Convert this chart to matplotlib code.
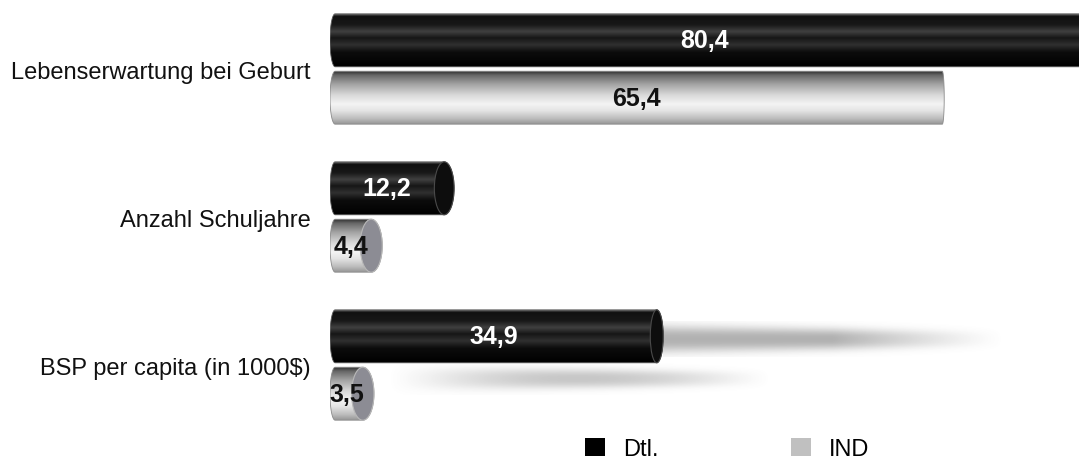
import numpy as np
import matplotlib.pyplot as plt
from matplotlib.colors import LinearSegmentedColormap
from matplotlib.patches import PathPatch, Ellipse, Patch
from matplotlib.path import Path

plt.rcParams['font.family'] = ['Liberation Sans', 'DejaVu Sans']

categories = ['Lebenserwartung bei Geburt', 'Anzahl Schuljahre', 'BSP per capita (in 1000$)']
dtl = [80.4, 12.2, 34.9]
ind = [65.4, 4.4, 3.5]
series_names = ['Dtl.', 'IND']

XMAX = 80.0

black_cmap = LinearSegmentedColormap.from_list('blk', [
    (0.0, '#6a6a6a'), (0.04, '#101010'), (0.2, '#181818'), (0.33, '#404040'),
    (0.45, '#161616'), (0.58, '#303030'), (0.72, '#0c0c0c'), (1.0, '#000000')])
grey_cmap = LinearSegmentedColormap.from_list('gry', [
    (0.0, '#303030'), (0.08, '#686868'), (0.25, '#a4a4a4'), (0.45, '#d8d8d8'),
    (0.62, '#f4f4f4'), (0.75, '#e4e4e4'), (0.9, '#bcbcbc'), (1.0, '#969696')])

fig = plt.figure(figsize=(10.79, 4.60), dpi=100)
fig.patch.set_facecolor('white')
ax = fig.add_axes([330 / 1079, 0, 1 - 330 / 1079, 1])
ax.patch.set_visible(False)

pos = np.arange(len(categories))
off = 0.194
h = 0.358

bars_d = ax.barh(pos - off, dtl, height=h, color='none')
bars_i = ax.barh(pos + off, ind, height=h, color='none')


def cylinder(bar, cmap, cap_face, cap_edge, outline):
    x1 = bar.get_width()
    hh = bar.get_height()
    yc = bar.get_y() + hh / 2
    rx = max(0.18, 1.25 - 0.016 * x1)
    rl = 0.55
    t = np.linspace(np.pi / 2, 3 * np.pi / 2, 40)
    left = np.column_stack([rl + rl * np.cos(t), yc - hh / 2 * np.sin(t)])
    t2 = np.linspace(-np.pi / 2, np.pi / 2, 40)
    right = np.column_stack([x1 + rx * np.cos(t2), yc - hh / 2 * np.sin(t2)])
    verts = np.vstack([left, right, left[:1]])
    codes = [Path.MOVETO] + [Path.LINETO] * (len(verts) - 2) + [Path.CLOSEPOLY]
    body = PathPatch(Path(verts, codes), facecolor='none', edgecolor=outline,
                     lw=0.6, zorder=3)
    ax.add_patch(body)
    grad = np.linspace(0, 1, 256).reshape(-1, 1)
    img = ax.imshow(grad, cmap=cmap, aspect='auto', origin='upper',
                    extent=(0, x1 + rx, yc + hh / 2, yc - hh / 2),
                    zorder=2, interpolation='bilinear')
    img.set_clip_path(body)
    if rx > 0.3:
        ax.add_patch(Ellipse((x1, yc), 2 * rx, hh, facecolor=cap_face,
                             edgecolor=cap_edge, lw=0.8, zorder=4))
    return x1 + rx, yc


def shadow(x0, x1, yc, thick, peak, fade_in):
    nx, ny = 400, 60
    xs = np.linspace(0, 1, nx)
    ys = np.linspace(-1, 1, ny)
    if fade_in:
        a_x = np.sin(np.pi * xs) ** 1.2
    else:
        a_x = np.clip((1 - xs) / 0.5, 0, 1) ** 1.2
    width = 1 - 0.4 * xs
    a = peak * a_x[None, :] * np.exp(-(np.abs(ys[:, None]) * 1.35 / width[None, :]) ** 2.5)
    rgba = np.zeros((ny, nx, 4))
    rgba[..., :3] = 0.45
    rgba[..., 3] = a
    ax.imshow(rgba, aspect='auto', origin='upper', interpolation='bilinear',
              extent=(x0, x1, yc + thick / 2, yc - thick / 2), zorder=1)


ends_d = [cylinder(b, black_cmap, '#0d0d0d', '#4a4a4a', '#5a5a5a') for b in bars_d]
ends_i = [cylinder(b, grey_cmap, '#8c8c94', '#b8b8b8', '#8a8a8a') for b in bars_i]

# soft reflections next to the BSP bars
shadow(ends_d[2][0], 72, ends_d[2][1] + 0.02, 0.24, 0.55, False)
shadow(ends_i[2][0] + 1.5, 47, ends_i[2][1] - 0.1, 0.22, 0.4, True)

for bars, vals, col in [(bars_d, dtl, 'white'), (bars_i, ind, '#111111')]:
    for b, v in zip(bars, vals):
        ax.text(min(v, XMAX) / 2, b.get_y() + b.get_height() / 2,
                f'{v:.1f}'.replace('.', ','), ha='center', va='center',
                fontsize=18, fontweight='bold', color=col, zorder=6)

ax.set_yticks(pos, categories)
ax.tick_params(axis='y', length=0, pad=14, labelsize=17, labelcolor='#111111')
ax.set_xticks([])
for s in ax.spines.values():
    s.set_visible(False)

ax.set_xlim(0, XMAX)
ax.set_ylim(2.635, -0.473)

handles = [Patch(facecolor='black'), Patch(facecolor='#c0c0c0')]
fig.legend(handles, series_names, loc='center', bbox_to_anchor=(727 / 1079, 0.022),
           ncol=2, frameon=False, fontsize=17, handlelength=0.85, handleheight=0.85,
           handletextpad=0.76, columnspacing=5.6)

fig.savefig('out.png', dpi=100, facecolor='white')
